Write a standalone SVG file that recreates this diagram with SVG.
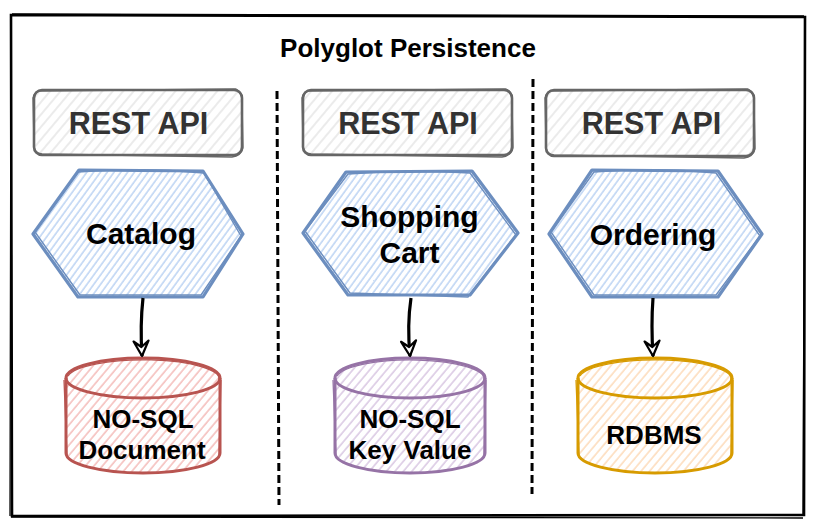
<svg xmlns="http://www.w3.org/2000/svg" width="814" height="528" viewBox="0 0 814 528">
<defs>
<pattern id="hGray" patternUnits="userSpaceOnUse" width="8" height="8" patternTransform="rotate(40)"><line x1="1" y1="0" x2="1" y2="8" stroke="#dedede" stroke-width="1.2"/></pattern>
<pattern id="hBlue" patternUnits="userSpaceOnUse" width="5.5" height="6" patternTransform="rotate(36)"><line x1="1" y1="0" x2="1" y2="6" stroke="#bcd3f3" stroke-width="1.5"/></pattern>
<pattern id="hRed" patternUnits="userSpaceOnUse" width="6.5" height="7" patternTransform="rotate(40)"><line x1="1" y1="0" x2="1" y2="7" stroke="#f3b7b4" stroke-width="1.4"/></pattern>
<pattern id="hPurple" patternUnits="userSpaceOnUse" width="6.5" height="7" patternTransform="rotate(40)"><line x1="1" y1="0" x2="1" y2="7" stroke="#d6c3e0" stroke-width="1.4"/></pattern>
<pattern id="hOrange" patternUnits="userSpaceOnUse" width="6.5" height="7" patternTransform="rotate(40)"><line x1="1" y1="0" x2="1" y2="7" stroke="#fdd8b4" stroke-width="1.4"/></pattern>
<marker id="arr" viewBox="-18 -10 20 20" refX="0" refY="0" markerWidth="20" markerHeight="20" markerUnits="userSpaceOnUse" orient="auto">
<path d="M-15,-7.5 L0,0 L-15,7.5 L-9,0 Z" fill="#fff" stroke="#000" stroke-width="2.2" stroke-linejoin="round"/>
</marker>
</defs>
<style>
text{font-family:"Liberation Sans",Arial,sans-serif;font-weight:bold;text-anchor:middle}
.title{font-size:26px;fill:#000}
.api{font-size:30.5px;fill:#333}
.svc{font-size:30px;fill:#000}
.db{font-size:26px;fill:#000}
.apibox{fill:url(#hGray);stroke:#666;stroke-width:2.6}
.apibox2{fill:none;stroke:#666;stroke-width:1.3}
.hex{fill:url(#hBlue);stroke:#6c8ebf;stroke-width:3.2;stroke-linejoin:round}
.hex2{fill:none;stroke:#6c8ebf;stroke-width:1.4}
.sep{fill:none;stroke:#000;stroke-width:3;stroke-dasharray:8 4}
.conn{fill:none;stroke:#000;stroke-width:3.2}
</style>
<g id="container">
<path d="M11,15 L805,17 L804,515 L12,516 Z" fill="#fff" stroke="#000" stroke-width="2.6"/>
<path d="M12,14 L804,16 M805,18 L803,514 M803,518 L11,517 M10,516 L11,16" fill="none" stroke="#000" stroke-width="1.3"/>
<text class="title" x="408" y="56.5">Polyglot Persistence</text>
</g>
<g id="separators">
<path class="sep" d="M277,91 L279,505"/>
<path class="sep" d="M533,79 L532,494"/>
</g>
<g id="api1">
<rect class="apibox" x="34" y="90" width="208" height="65" rx="8"/>
<path class="apibox2" d="M40,91 L236,89 Q243,92 242,100 L243,148 Q241,156 232,157 L42,154 Q34,153 34,145 L33,98 Q35,91 40,91"/>
<text class="api" x="138.5" y="133.5">REST API</text>
</g>
<g id="api2">
<rect class="apibox" x="303" y="90" width="209" height="65" rx="8"/>
<path class="apibox2" d="M309,91 L506,89 Q513,92 512,100 L513,148 Q511,156 502,157 L311,154 Q303,153 303,145 L302,98 Q304,91 309,91"/>
<text class="api" x="408" y="133.5">REST API</text>
</g>
<g id="api3">
<rect class="apibox" x="546" y="90" width="208" height="66" rx="8"/>
<path class="apibox2" d="M552,91 L748,89 Q755,92 754,100 L755,149 Q753,157 744,158 L554,155 Q546,154 546,146 L545,98 Q547,91 552,91"/>
<text class="api" x="651.5" y="133.5">REST API</text>
</g>
<g id="catalog">
<path class="hex" d="M33,234 L79,170 L203,171 L243,234 L203,297 L78,297 Z"/>
<path class="hex2" d="M35,232 L78,172 Q140,167 204,173 L241,236 L201,295 L80,295 Z"/>
<text class="svc" x="141" y="244">Catalog</text>
</g>
<g id="cart">
<path class="hex" d="M303,233 L346,172 L472,171 L518,233 L470,295 L348,295 Z"/>
<path class="hex2" d="M305,231 L348,174 Q410,169 470,173 L516,235 L468,297 L350,293 Z"/>
<text class="svc" x="409.5" y="226.5">Shopping</text>
<text class="svc" x="409.5" y="262.5">Cart</text>
</g>
<g id="ordering">
<path class="hex" d="M549,234 L592,170 L718,171 L762,234 L718,297 L592,297 Z"/>
<path class="hex2" d="M551,232 L594,172 Q655,167 716,173 L760,236 L716,295 L594,295 Z"/>
<text class="svc" x="653" y="244.5">Ordering</text>
</g>
<g id="doc">
<path d="M66,378 A77,20 0 0 1 220,378 L220,453 A77,20 0 0 1 66,453 Z" fill="url(#hRed)" stroke="#b85450" stroke-width="3"/>
<path d="M66,378 A77,20 0 0 0 220,378" fill="none" stroke="#b85450" stroke-width="3"/>
<path d="M68,376 A76,19 0 0 1 219,380 M221,380 L219,455 M64,380 L67,455" fill="none" stroke="#b85450" stroke-width="1.3"/>
<text class="db" x="143" y="427.5">NO-SQL</text>
<text class="db" x="142" y="458.5">Document</text>
</g>
<g id="kv">
<path d="M335,378 A75,20 0 0 1 485,378 L485,453 A75,20 0 0 1 335,453 Z" fill="url(#hPurple)" stroke="#9673a6" stroke-width="3"/>
<path d="M335,378 A75,20 0 0 0 485,378" fill="none" stroke="#9673a6" stroke-width="3"/>
<path d="M337,376 A74,19 0 0 1 484,380 M486,380 L484,455 M333,380 L336,455" fill="none" stroke="#9673a6" stroke-width="1.3"/>
<text class="db" x="410" y="427.5">NO-SQL</text>
<text class="db" x="410" y="458.5">Key Value</text>
</g>
<g id="rdbms">
<path d="M578,378 A77,20 0 0 1 732,378 L732,453 A77,20 0 0 1 578,453 Z" fill="url(#hOrange)" stroke="#d79b00" stroke-width="3"/>
<path d="M578,378 A77,20 0 0 0 732,378" fill="none" stroke="#d79b00" stroke-width="3"/>
<path d="M580,376 A76,19 0 0 1 731,380 M733,380 L731,455 M576,380 L579,455" fill="none" stroke="#d79b00" stroke-width="1.3"/>
<text class="db" x="654" y="443.5">RDBMS</text>
</g>
<g id="connectors">
<path class="conn" d="M143,298 Q140,325 142,356" marker-end="url(#arr)"/>
<path class="conn" d="M411,298 Q407,325 410,356" marker-end="url(#arr)"/>
<path class="conn" d="M653,298 Q651,325 653,356" marker-end="url(#arr)"/>
</g>
</svg>
